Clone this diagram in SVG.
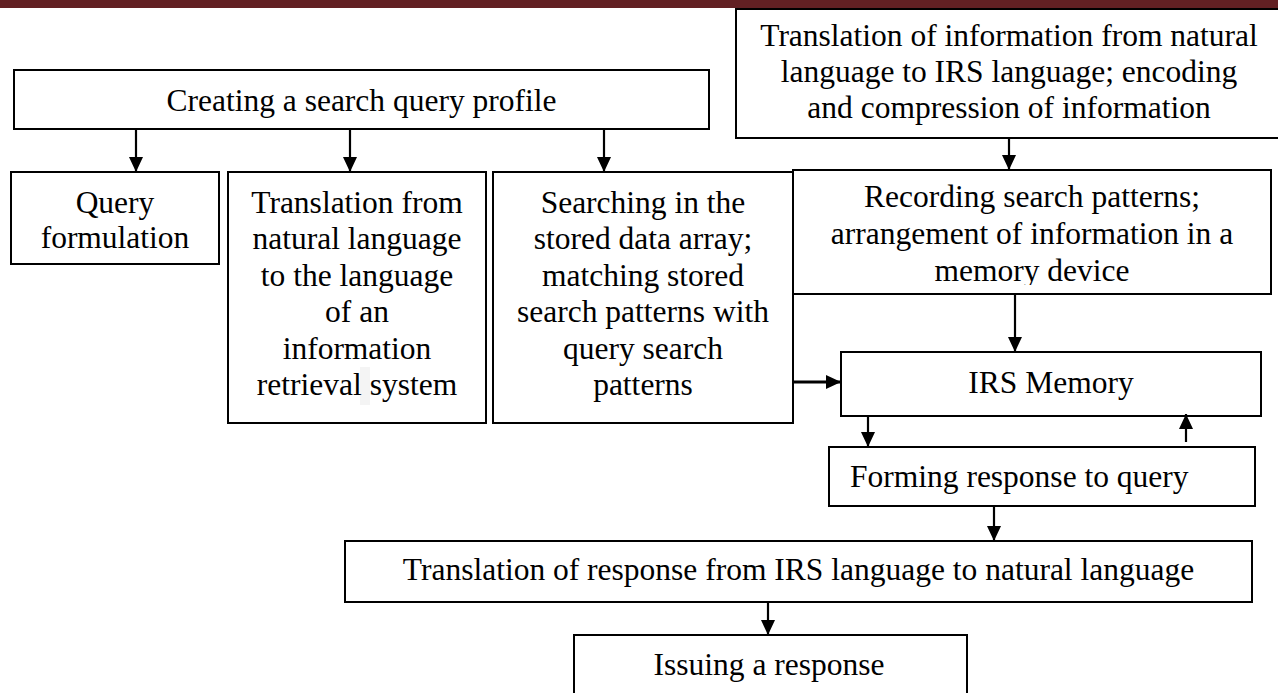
<svg xmlns="http://www.w3.org/2000/svg" width="1278" height="693" viewBox="0 0 1278 693">
<style>
.box{fill:#ffffff;stroke:#000000;stroke-width:2}
.t{font-family:"Liberation Serif","Times New Roman",serif;font-size:31.5px;fill:#000000;text-anchor:middle}
.tl{text-anchor:start}
.c{stroke:#000000;stroke-width:2.2;fill:none;marker-end:url(#ah)}
.thick{stroke-width:3}
</style>
<defs>
<marker id="ah" markerUnits="userSpaceOnUse" markerWidth="15" markerHeight="14" refX="15" refY="7" orient="auto">
<path d="M0,0 L15,7 L0,14 Z" fill="#000000"/>
</marker>
<clipPath id="recClip"><rect x="793" y="170" width="478" height="115"/></clipPath>
</defs>
<rect x="0" y="0" width="1278" height="693" fill="#ffffff"/>
<rect x="0" y="0" width="1278" height="8" fill="#622023"/>

<g id="creating">
<rect class="box" x="14" y="70" width="695" height="59"/>
<text class="t" x="361.5" y="111">Creating a search query profile</text>
</g>

<g id="translation-info">
<rect class="box" x="736" y="9" width="548" height="129"/>
<text class="t" x="1009" y="46">Translation of information from natural</text>
<text class="t" x="1009" y="82">language to IRS language; encoding</text>
<text class="t" x="1009" y="118">and compression of information</text>
</g>

<g id="query">
<rect class="box" x="11" y="172" width="208" height="92"/>
<text class="t" x="115" y="213">Query</text>
<text class="t" x="115" y="248">formulation</text>
</g>

<g id="translation-natural">
<rect class="box" x="228" y="172" width="258" height="251"/>
<rect x="360" y="367" width="10" height="38" fill="#f4f4f4"/>
<text class="t" x="357" y="213">Translation from</text>
<text class="t" x="357" y="249.4">natural language</text>
<text class="t" x="357" y="285.8">to the language</text>
<text class="t" x="357" y="322.2">of an</text>
<text class="t" x="357" y="358.6">information</text>
<text class="t" x="357" y="395">retrieval system</text>
</g>

<g id="searching">
<rect class="box" x="493" y="172" width="300" height="251"/>
<text class="t" x="643" y="213">Searching in the</text>
<text class="t" x="643" y="249.4">stored data array;</text>
<text class="t" x="643" y="285.8">matching stored</text>
<text class="t" x="643" y="322.2">search patterns with</text>
<text class="t" x="643" y="358.6">query search</text>
<text class="t" x="643" y="395">patterns</text>
</g>

<g id="recording">
<rect class="box" x="793" y="170" width="478" height="124"/>
<g clip-path="url(#recClip)">
<text class="t" x="1032" y="207">Recording search patterns;</text>
<text class="t" x="1032" y="243.5">arrangement of information in a</text>
<text class="t" x="1032" y="281">memory device</text>
</g>
</g>

<g id="irs-memory">
<rect class="box" x="841" y="352" width="420" height="64"/>
<text class="t" x="1051" y="393">IRS Memory</text>
</g>

<g id="forming">
<rect class="box" x="829" y="447" width="426" height="59"/>
<text class="t tl" x="850" y="487">Forming response to query</text>
</g>

<g id="translation-response">
<rect class="box" x="345" y="541" width="907" height="61"/>
<text class="t" x="798.5" y="580">Translation of response from IRS language to natural language</text>
</g>

<g id="issuing">
<rect class="box" x="574" y="635" width="393" height="80"/>
<text class="t" x="769" y="675">Issuing a response</text>
</g>

<g id="connectors">
<line class="c" x1="136" y1="129" x2="136" y2="172"/>
<line class="c" x1="350" y1="129" x2="350" y2="172"/>
<line class="c" x1="604" y1="129" x2="604" y2="172"/>
<line class="c" x1="1009" y1="138" x2="1009" y2="170"/>
<line class="c" x1="1015" y1="294" x2="1015" y2="352"/>
<line class="c thick" x1="793" y1="382" x2="841" y2="382"/>
<line class="c" x1="868" y1="416" x2="868" y2="447"/>
<line class="c" x1="1186" y1="442" x2="1186" y2="414"/>
<line class="c" x1="994" y1="506" x2="994" y2="541"/>
<line class="c" x1="768" y1="602" x2="768" y2="635"/>
</g>
</svg>
